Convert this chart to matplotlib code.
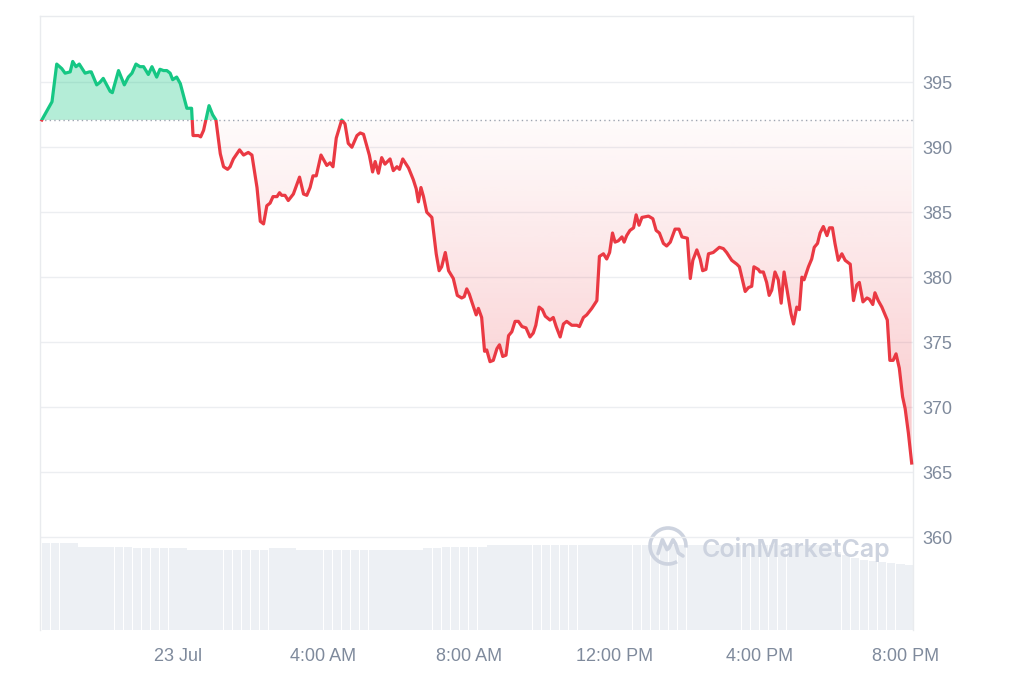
import numpy as np
import pandas as pd
import matplotlib
matplotlib.use("Agg")
import matplotlib.pyplot as plt
import matplotlib.dates as mdates
from matplotlib.patches import Rectangle, Polygon, Arc
from matplotlib.colors import to_rgb

# ---------------- data ----------------
# hours relative to 23 Jul 00:00
hours = [-3.75, -3.47, -3.34, -3.20, -3.11, -2.97, -2.90, -2.81, -2.72, -2.56,
         -2.44, -2.39, -2.24, -2.15, -2.06, -1.87, -1.81, -1.64, -1.48, -1.37,
         -1.27, -1.16, -1.05, -0.95, -0.82, -0.72, -0.59, -0.50, -0.40, -0.31,
         -0.22, -0.15, -0.04, 0.06, 0.24, 0.30, 0.37, 0.41, 0.56, 0.62,
         0.70, 0.85, 0.95, 1.04, 1.16, 1.25, 1.36, 1.43, 1.52, 1.69,
         1.80, 1.93, 2.03, 2.17, 2.26, 2.35, 2.44, 2.53, 2.61, 2.72,
         2.79, 2.85, 2.94, 3.03, 3.17, 3.34, 3.45, 3.54, 3.63, 3.71,
         3.80, 3.93, 4.09, 4.18, 4.26, 4.35, 4.50, 4.59, 4.68, 4.78,
         4.92, 5.01, 5.10, 5.17, 5.26, 5.35, 5.42, 5.51, 5.60, 5.69,
         5.83, 5.92, 6.02, 6.09, 6.18, 6.34, 6.47, 6.55, 6.61, 6.68,
         6.75, 6.84, 6.98, 7.10, 7.18, 7.25, 7.35, 7.44, 7.57, 7.68,
         7.80, 7.87, 7.94, 8.01, 8.08, 8.20, 8.26, 8.35, 8.43, 8.49,
         8.58, 8.67, 8.77, 8.84, 8.93, 9.02, 9.09, 9.18, 9.27, 9.36,
         9.46, 9.57, 9.68, 9.77, 9.84, 9.93, 10.02, 10.10, 10.23, 10.32,
         10.40, 10.51, 10.60, 10.69, 10.83, 10.97, 11.04, 11.15, 11.24, 11.38,
         11.52, 11.59, 11.70, 11.79, 11.87, 11.95, 12.02, 12.11, 12.21, 12.27,
         12.34, 12.43, 12.53, 12.60, 12.68, 12.76, 12.94, 13.06, 13.15, 13.24,
         13.35, 13.44, 13.54, 13.67, 13.78, 13.86, 14.01, 14.09, 14.16, 14.27,
         14.36, 14.43, 14.52, 14.59, 14.72, 14.89, 15.00, 15.09, 15.23, 15.37,
         15.44, 15.60, 15.69, 15.78, 15.84, 15.96, 16.01, 16.10, 16.19, 16.26,
         16.33, 16.42, 16.51, 16.59, 16.67, 16.76, 16.86, 16.93, 17.02, 17.09,
         17.16, 17.22, 17.34, 17.43, 17.50, 17.59, 17.66, 17.75, 17.85, 17.92,
         18.00, 18.07, 18.16, 18.26, 18.35, 18.49, 18.58, 18.67, 18.74, 18.84,
         18.95, 19.02, 19.11, 19.17, 19.26, 19.36, 19.45, 19.51, 19.58, 19.67,
         19.75, 19.84, 19.93, 20.00, 20.09, 20.18]

price = [392.1, 393.5, 396.4, 396.05, 395.7, 395.8, 396.6, 396.2, 396.4, 395.7,
         395.8, 395.8, 394.8, 395.0, 395.3, 394.3, 394.2, 395.9, 394.8, 395.4,
         395.7, 396.4, 396.2, 396.2, 395.6, 396.2, 395.4, 396.0, 395.9, 395.9,
         395.7, 395.2, 395.4, 394.9, 393.0, 393.0, 393.0, 390.9, 390.9, 390.8,
         391.3, 393.2, 392.5, 392.1, 389.5, 388.5, 388.3, 388.5, 389.1, 389.8,
         389.4, 389.6, 389.4, 386.9, 384.3, 384.1, 385.5, 385.7, 386.2, 386.2,
         386.5, 386.3, 386.3, 385.9, 386.4, 387.7, 386.4, 386.3, 386.9, 387.8,
         387.8, 389.4, 388.6, 388.8, 388.5, 390.7, 392.1, 391.8, 390.3, 390.0,
         390.9, 391.1, 391.0, 390.3, 389.4, 388.1, 388.9, 388.0, 389.2, 388.7,
         389.1, 388.2, 388.5, 388.3, 389.1, 388.4, 387.5, 386.8, 385.8, 386.9,
         386.2, 385.0, 384.6, 381.8, 380.5, 380.8, 381.9, 380.5, 379.9, 378.6,
         378.4, 378.5, 379.1, 378.7, 378.1, 377.1, 377.6, 376.9, 374.3, 374.4,
         373.5, 373.6, 374.5, 374.8, 373.9, 374.0, 375.5, 375.8, 376.6, 376.6,
         376.2, 376.1, 375.4, 375.7, 376.3, 377.7, 377.5, 377.0, 376.7, 376.9,
         376.2, 375.4, 376.4, 376.6, 376.3, 376.3, 376.2, 376.9, 377.1, 377.6,
         378.2, 381.6, 381.8, 381.4, 381.9, 383.4, 382.7, 382.8, 383.1, 382.7,
         383.2, 383.6, 383.8, 384.8, 384.0, 384.6, 384.7, 384.5, 383.6, 383.4,
         382.6, 382.4, 382.7, 383.7, 383.7, 383.1, 383.0, 379.9, 381.3, 382.1,
         381.4, 380.5, 380.6, 381.8, 381.9, 382.3, 382.2, 381.9, 381.3, 381.0,
         380.8, 378.9, 379.2, 379.3, 380.8, 380.6, 380.4, 380.4, 379.6, 378.6,
         379.0, 380.4, 379.8, 378.0, 380.4, 378.9, 377.2, 376.4, 377.7, 377.5,
         380.0, 379.8, 380.8, 381.4, 382.3, 382.6, 383.4, 383.9, 383.2, 383.8,
         383.8, 382.6, 381.3, 381.8, 381.3, 381.0, 378.2, 379.4, 379.6, 378.1,
         378.4, 378.3, 377.9, 378.8, 378.2, 377.7, 377.1, 376.7, 373.6, 373.6,
         374.1, 373.0, 370.8, 369.9, 368.0, 365.7]

baseline = 392.1

# volume (millions), one bar per 15 minutes starting 22 Jul 20:15
volume = [8.7, 8.7, 8.7, 8.7,
          8.3, 8.3, 8.3, 8.3, 8.3, 8.3,
          8.2, 8.2, 8.2, 8.2, 8.2, 8.2,
          8.0, 8.0, 8.0, 8.0, 8.0, 8.0, 8.0, 8.0, 8.0,
          8.2, 8.2, 8.2,
          8.0, 8.0, 8.0, 8.0, 8.0, 8.0, 8.0, 8.0, 8.0, 8.0, 8.0, 8.0, 8.0, 8.0,
          8.2, 8.2,
          8.3, 8.3, 8.3, 8.3, 8.3,
          8.5, 8.5, 8.5, 8.5, 8.5, 8.5, 8.5, 8.5, 8.5, 8.5,
          8.5, 8.5, 8.5, 8.5, 8.5, 8.5, 8.5, 8.5, 8.5, 8.5,
          8.5, 8.5, 8.5, 8.5, 8.5, 8.5, 8.5, 8.5, 8.5, 8.5,
          8.5, 8.5, 8.5, 8.5, 8.5, 8.5, 8.5, 8.5,
          7.8, 7.5, 7.2, 7.0, 6.9, 6.8, 6.7, 6.6, 6.5]

yticks = [360, 365, 370, 375, 380, 385, 390, 395]
xtick_times = ["2023-07-23 00:00", "2023-07-23 04:00", "2023-07-23 08:00",
               "2023-07-23 12:00", "2023-07-23 16:00", "2023-07-23 20:00"]
xtick_labels = ["23 Jul", "4:00 AM", "8:00 AM", "12:00 PM", "4:00 PM", "8:00 PM"]

# ---------------- styling ----------------
GREEN = "#16c784"
RED = "#ea3943"
LABEL = "#7f8a9c"
GRID = "#eceef1"
FONT = "Liberation Sans"

t0 = pd.Timestamp("2023-07-23 00:00")
times = t0 + pd.to_timedelta(np.array(hours), unit="h")
xn = mdates.date2num(times.to_pydatetime())
p = np.array(price)

vol_times = pd.date_range("2023-07-22 20:15", periods=len(volume), freq="15min")
vn = mdates.date2num(vol_times.to_pydatetime())
bar_w = 0.25 / 24.0

x_left = mdates.date2num(pd.Timestamp("2023-07-22 20:12").to_pydatetime())
x_right = mdates.date2num(pd.Timestamp("2023-07-23 20:13").to_pydatetime())

fig = plt.figure(figsize=(10.24, 6.83), dpi=100)
fig.patch.set_facecolor("white")
ax = fig.add_axes([40 / 1024, (683 - 630) / 683, (913 - 40) / 1024, (630 - 16) / 683])
axv = ax.twinx()
ax.set_zorder(axv.get_zorder() + 1)
ax.patch.set_visible(False)

# volume bars
axv.bar(vn, volume, width=bar_w * 0.94, align="edge", color="#edf0f4", linewidth=0)
axv.set_ylim(0, 61.4)
axv.set_yticks([])
for s in axv.spines.values():
    s.set_visible(False)

# green fill above baseline
ax.fill_between(xn, p, baseline, where=p >= baseline, interpolate=True,
                color=GREEN, alpha=0.32, linewidth=0, zorder=1)

# red gradient fill below baseline
grad = np.zeros((256, 1, 4))
grad[..., :3] = to_rgb(RED)
grad[:, 0, 3] = np.linspace(0.30, 0.02, 256)
im = ax.imshow(grad, extent=[xn[0], xn[-1], 364.0, baseline], origin="lower",
               aspect="auto", zorder=1, interpolation="bilinear")
clip = Polygon(np.column_stack([np.r_[xn, xn[-1], xn[0]],
                                np.r_[p, baseline, baseline]]),
               closed=True, transform=ax.transData, facecolor="none", edgecolor="none")
im.set_clip_path(clip)

# baseline dotted
ax.axhline(baseline, color="#9ea5b1", lw=1.0, ls=(0, (1, 2.3)), zorder=2)

# price line split into green/red
ymin, ymax = 352.85, 400.1
lg, = ax.plot(xn, p, color=GREEN, lw=2.3, solid_joinstyle="round", zorder=3)
lr, = ax.plot(xn, p, color=RED, lw=2.3, solid_joinstyle="round", zorder=3)
rg = Rectangle((xn[0] - 1, baseline), 3, 100, transform=ax.transData)
rr = Rectangle((xn[0] - 1, baseline - 100), 3, 100, transform=ax.transData)
lg.set_clip_path(rg)
lr.set_clip_path(rr)

ax.set_xlim(x_left, x_right)
ax.set_ylim(ymin, ymax)

# axes style
ax.yaxis.tick_right()
ax.set_yticks(yticks)
ax.set_yticklabels([str(v) for v in yticks])
ax.set_xticks(mdates.date2num(pd.to_datetime(xtick_times).to_pydatetime()))
ax.set_xticklabels(xtick_labels)
ax.tick_params(axis="y", length=0, pad=7, labelsize=13, labelcolor=LABEL)
ax.tick_params(axis="x", length=0, pad=13, labelsize=13, labelcolor=LABEL)
for lab in ax.get_xticklabels() + ax.get_yticklabels():
    lab.set_fontfamily(FONT)
ax.yaxis.grid(True, color=GRID, lw=1.0, zorder=0)
ax.xaxis.grid(False)
ax.set_axisbelow(True)
for side in ["top", "left", "right"]:
    ax.spines[side].set_color("#e9ebee")
    ax.spines[side].set_linewidth(1.0)
ax.spines["bottom"].set_visible(False)

# watermark
WM = "#cdd3df"
fig.text(702 / 1024, 1 - 549 / 683, "CoinMarketCap", ha="left", va="center",
         fontsize=18, fontweight="semibold", family="Inter", color=WM, zorder=10)
lax = fig.add_axes([648 / 1024, 1 - 566 / 683, 40 / 1024, 40 / 683])
lax.set_xlim(-1, 1)
lax.set_ylim(-1, 1)
lax.axis("off")
lax.add_patch(Arc((0, 0), 1.8, 1.8, theta1=-5, theta2=300, color=WM, lw=2.6))
lax.plot([-0.5, -0.28, -0.05, 0.05, 0.25, 0.38, 0.52, 0.75],
         [-0.38, 0.32, -0.18, -0.1, 0.32, 0.1, -0.35, -0.5],
         color=WM, lw=2.6, solid_joinstyle="round", solid_capstyle="round")

fig.savefig("out.png", dpi=100, facecolor="white")
